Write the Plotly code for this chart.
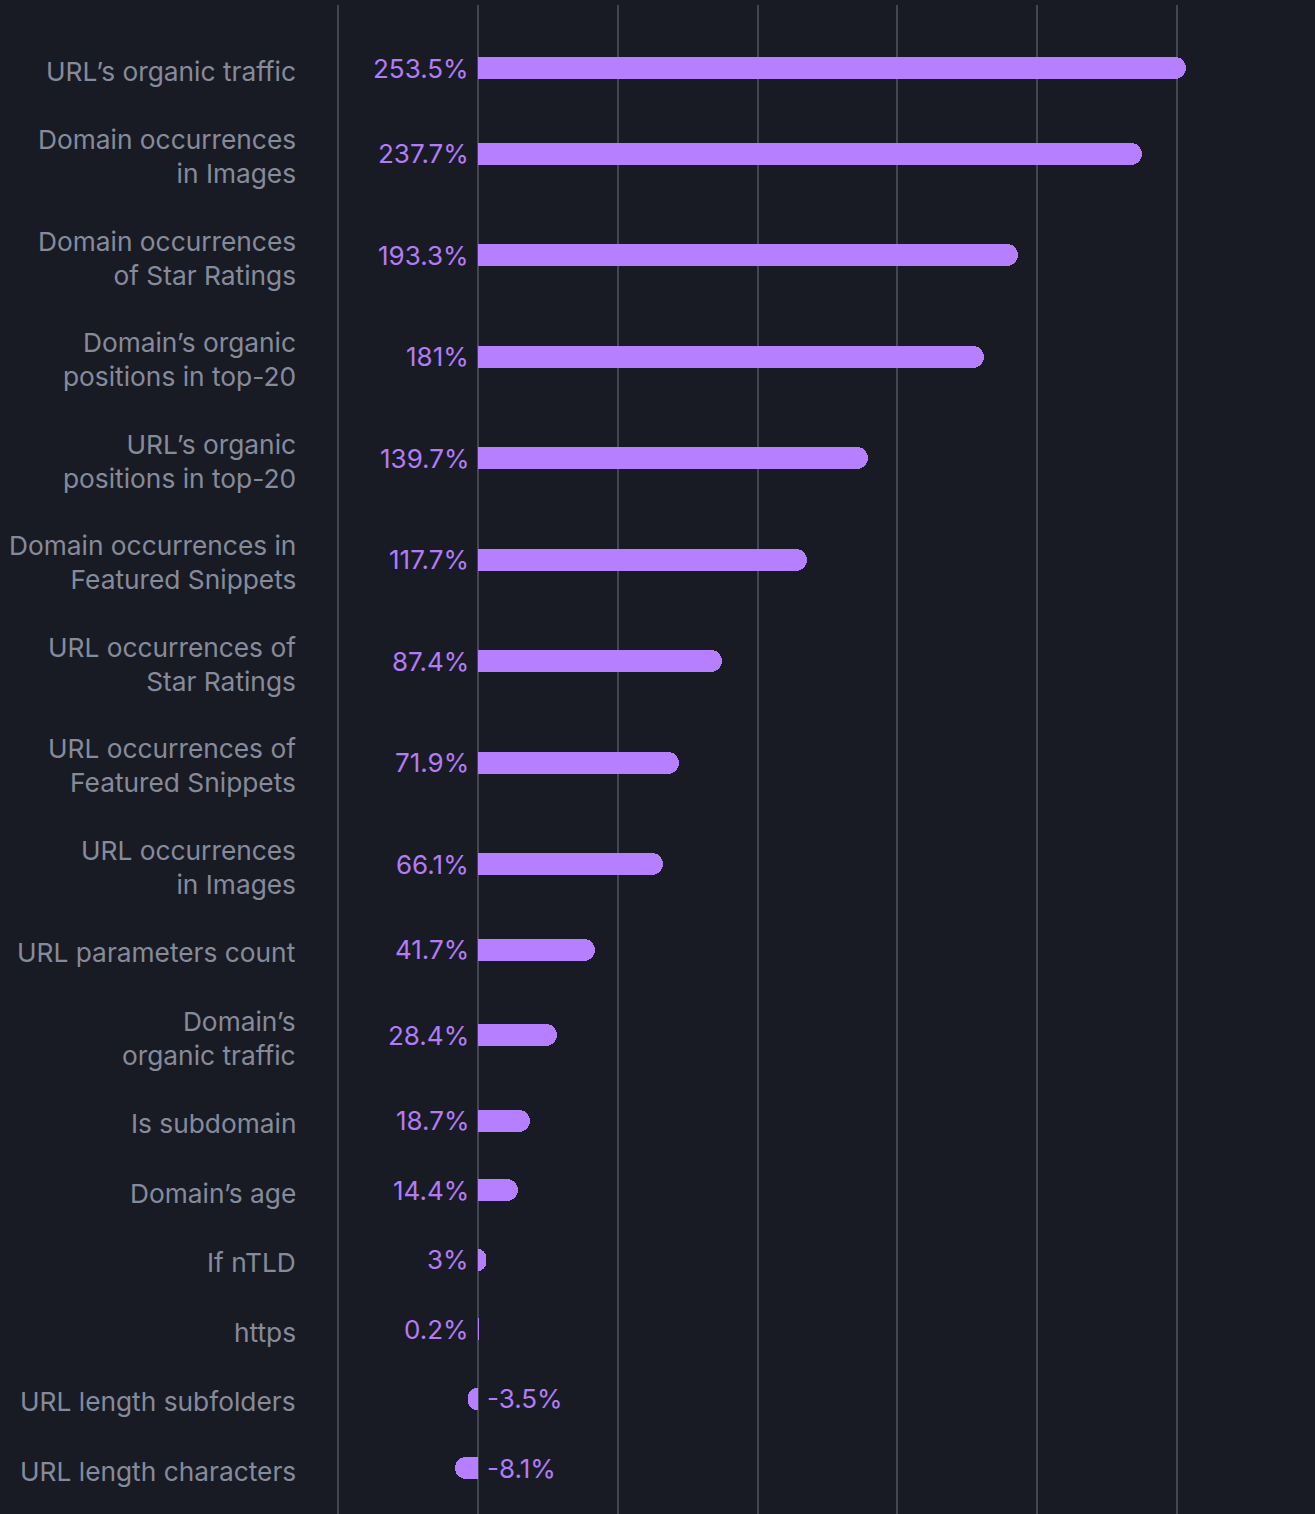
import plotly.graph_objects as go

# Relative effect of each factor on ranking (percent)
factors = [
    "URL’s organic traffic",
    "Domain occurrences<br>in Images",
    "Domain occurrences<br>of Star Ratings",
    "Domain’s organic<br>positions in top-20",
    "URL’s organic<br>positions in top-20",
    "Domain occurrences in<br>Featured Snippets",
    "URL occurrences of<br>Star Ratings",
    "URL occurrences of<br>Featured Snippets",
    "URL occurrences<br>in Images",
    "URL parameters count",
    "Domain’s<br>organic traffic",
    "Is subdomain",
    "Domain’s age",
    "If nTLD",
    "https",
    "URL length subfolders",
    "URL length characters",
]
impact = [253.5, 237.7, 193.3, 181, 139.7, 117.7, 87.4, 71.9, 66.1,
          41.7, 28.4, 18.7, 14.4, 3, 0.2, -3.5, -8.1]
impact_labels = ["253.5%", "237.7%", "193.3%", "181%", "139.7%", "117.7%",
                 "87.4%", "71.9%", "66.1%", "41.7%", "28.4%", "18.7%",
                 "14.4%", "3%", "0.2%", "-3.5%", "-8.1%"]

# Layout constants
W, H = 1315, 1514
TOP, LEFT = 5, 337
ROW_H = {1: 69.5, 2: 101.5}   # row height by number of label lines
FIRST_TOP = 33.25
BG = "#191b24"
GRID = "#444753"
BAR = "#b67fff"
VALUE_TXT = "#b37cf6"
LABEL_TXT = "#868b9c"
FONT = "Inter, 'Noto Sans', sans-serif"

# Row centres (in pixel units along the reversed y axis)
centres = []
cursor = FIRST_TOP
for name in factors:
    h = ROW_H[name.count("<br>") + 1]
    centres.append(cursor + h / 2)
    cursor += h

fig = go.Figure(
    go.Bar(
        x=impact,
        y=centres,
        orientation="h",
        width=22,
        marker=dict(color=BAR, line=dict(width=0), cornerradius=11),
        hoverinfo="skip",
    )
)

annotations = []
for name, val, txt, yc in zip(factors, impact, impact_labels, centres):
    pos = val >= 0
    annotations.append(dict(
        x=0, y=yc, xref="x", yref="y",
        text=txt, showarrow=False,
        xanchor="right" if pos else "left",
        xshift=-7 if pos else 7,
        font=dict(family=FONT, size=26, color=VALUE_TXT),
    ))
    annotations.append(dict(
        x=0, y=yc, xref="paper", yref="y",
        text=name, showarrow=False, align="right",
        xanchor="right", xshift=-39, yshift=-3,
        font=dict(family=FONT, size=26.3, color=LABEL_TXT),
    ))

fig.update_layout(
    width=W, height=H,
    margin=dict(l=LEFT, r=0, t=TOP, b=0, pad=0),
    paper_bgcolor=BG, plot_bgcolor=BG,
    showlegend=False,
    bargap=0,
    annotations=annotations,
    xaxis=dict(
        range=[-50.5, 299.5], dtick=50, tick0=0,
        showgrid=True, gridcolor=GRID, gridwidth=1.5,
        zeroline=False, showticklabels=False, showline=False,
        fixedrange=True,
    ),
    yaxis=dict(
        range=[H, TOP],
        showgrid=False, zeroline=False, showticklabels=False,
        showline=False, fixedrange=True,
    ),
)

fig.write_html("out.html", config={"displayModeBar": False})
